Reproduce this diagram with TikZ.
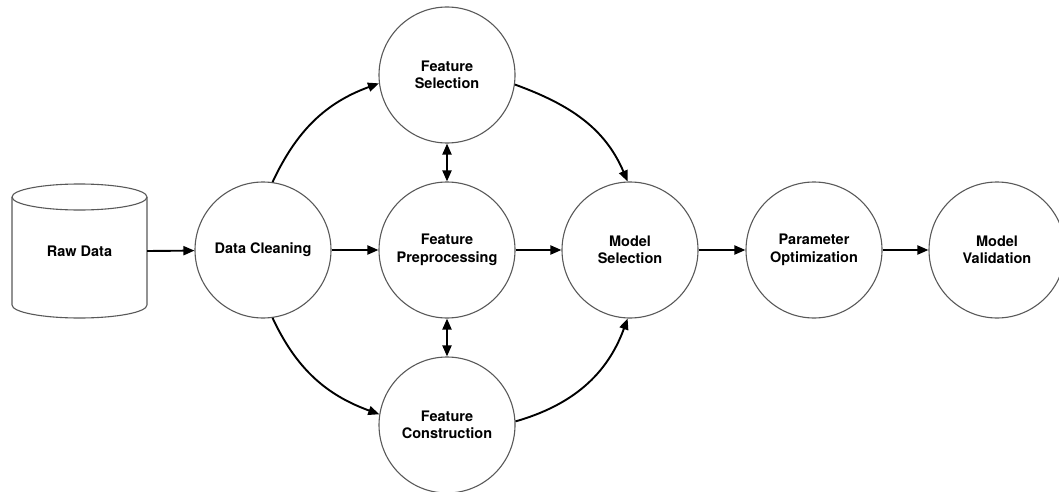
\documentclass[tikz,border=0pt]{standalone}
\usepackage{fontspec}
\setmainfont{TeX Gyre Heros}
\usetikzlibrary{arrows.meta}
\begin{document}
\begin{tikzpicture}[x=1pt,y=-1pt,
  stage/.style={circle,draw=black!65,line width=1.1pt,minimum size=136pt,inner sep=0pt,
    align=center,font=\fontsize{14.5}{17.5}\selectfont\bfseries},
  flow/.style={line width=1.9pt,-{Triangle[length=11pt,width=9pt]}},
  both/.style={line width=1.9pt,{Triangle[length=11pt,width=9pt]}-{Triangle[length=11pt,width=9pt]}}]
\useasboundingbox (0,0) rectangle (1059,492);
% cylinder
\draw[draw=black!65,line width=1.1pt,fill=white] (12,197) -- (12,305) arc[start angle=180,end angle=360,x radius=67.5,y radius=-13] -- (147,197);
\draw[draw=black!65,line width=1.1pt] (79.5,197) ellipse[x radius=67.5,y radius=13];
\node[minimum width=135pt,minimum height=135pt,inner sep=0pt,font=\fontsize{14.5}{17.5}\selectfont\bfseries] (raw) at (79.5,251) {\raisebox{-5pt}{Raw Data}};
\node[stage] (dc) at (263,250) {Data Cleaning};
\node[stage] (fs) at (447,75) {\raisebox{0pt}{}Feature\\Selection};
\node[stage] (fp) at (447,250) {Feature\\Preprocessing};
\node[stage] (fc) at (447,425) {Feature\\Construction};
\node[stage] (ms) at (630,250) {Model\\Selection};
\node[stage] (po) at (814,250) {Parameter\\Optimization};
\node[stage] (mv) at (997,250) {Model\\Validation};
\draw[flow] (raw.east) -- (dc);
\draw[flow] (dc) -- (fp);
\draw[flow] (fp) -- (ms);
\draw[flow] (ms) -- (po);
\draw[flow] (po) -- (mv);
\draw[both] (fs) -- (fp);
\draw[both] (fp) -- (fc);
\draw[flow] (dc.82) to[out=65,in=200] (fs.187);
\draw[flow] (dc.278) to[out=-65,in=160] (fc.171);
\draw[flow] (fs.352) to[out=-20,in=113] (ms.92);
\draw[flow] (fc.3) to[out=16,in=250] (ms.268);
\end{tikzpicture}
\end{document}
